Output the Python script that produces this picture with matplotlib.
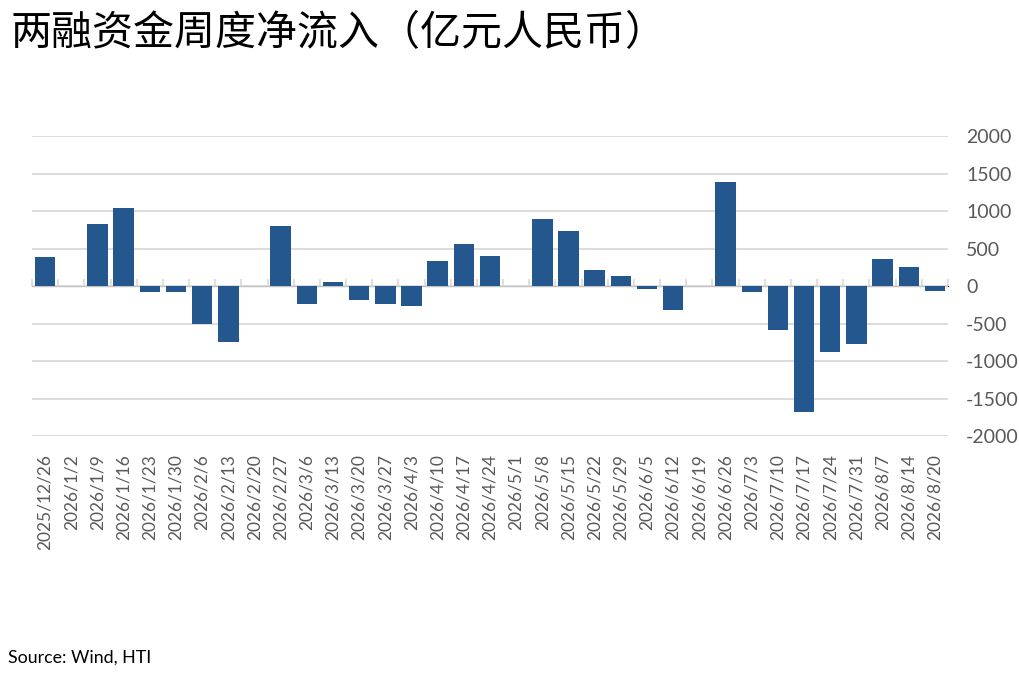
import matplotlib
matplotlib.use("Agg")
import matplotlib.pyplot as plt
import numpy as np

# weekly net inflow of margin financing, 100m RMB
dates = [
    "2025/12/26", "2026/1/2", "2026/1/9", "2026/1/16", "2026/1/23", "2026/1/30",
    "2026/2/6", "2026/2/13", "2026/2/20", "2026/2/27", "2026/3/6", "2026/3/13",
    "2026/3/20", "2026/3/27", "2026/4/3", "2026/4/10", "2026/4/17", "2026/4/24",
    "2026/5/1", "2026/5/8", "2026/5/15", "2026/5/22", "2026/5/29", "2026/6/5",
    "2026/6/12", "2026/6/19", "2026/6/26", "2026/7/3", "2026/7/10", "2026/7/17",
    "2026/7/24", "2026/7/31", "2026/8/7", "2026/8/14", "2026/8/20",
]
inflow = [
    390, 0, 830, 1035, -80, -80,
    -505, -750, 0, 800, -240, 60,
    -180, -240, -270, 335, 560, 400,
    0, 900, 730, 215, 130, -40,
    -320, 0, 1385, -75, -585, -1680,
    -885, -770, 355, 250, -60,
]
yticks = [2000, 1500, 1000, 500, 0, -500, -1000, -1500, -2000]

BAR = "#24578D"
GRID = "#D9D9D9"
TXT = "#595959"

plt.rcParams["font.family"] = ["Lato", "DejaVu Sans"]
plt.rcParams["axes.unicode_minus"] = False

fig = plt.figure(figsize=(10.2, 6.75), dpi=100)
ax = fig.add_axes([0.0314, 0.354, 0.898, 0.4445])

x = np.arange(len(dates))
ax.bar(x, inflow, width=0.78, color=BAR, zorder=3)

ax.set_xlim(-0.5, len(dates) - 0.5)
ax.set_ylim(-2000, 2000)
ax.set_yticks(yticks)
ax.yaxis.tick_right()
ax.tick_params(axis="y", length=0, pad=13, labelsize=14, labelcolor=TXT)
ax.grid(axis="y", color=GRID, linewidth=1.3, zorder=0)

ax.set_xticks(x)
ax.set_xticklabels(dates, rotation=90, fontsize=12.5, color=TXT)
ax.tick_params(axis="x", length=0, pad=13)

for s in ax.spines.values():
    s.set_visible(False)

# zero line with category boundary ticks (Excel style)
zero = ax.secondary_xaxis(0.5)
zero.set_xticks(np.arange(len(dates) + 1) - 0.5)
zero.set_xticklabels([])
zero.tick_params(axis="x", direction="out", length=5, width=1.2, color=GRID)
zero.spines["bottom"].set_color(GRID)
zero.spines["bottom"].set_linewidth(1.3)

fig.text(0.01, 0.951, "两融资金周度净流入（亿元人民币）",
         fontsize=29.5, family=["Noto Sans CJK SC", "DejaVu Sans"], va="center")
fig.text(0.008, 0.019, "Source: Wind, HTI", fontsize=12.8, color="black")

fig.savefig("out.png", dpi=100)
